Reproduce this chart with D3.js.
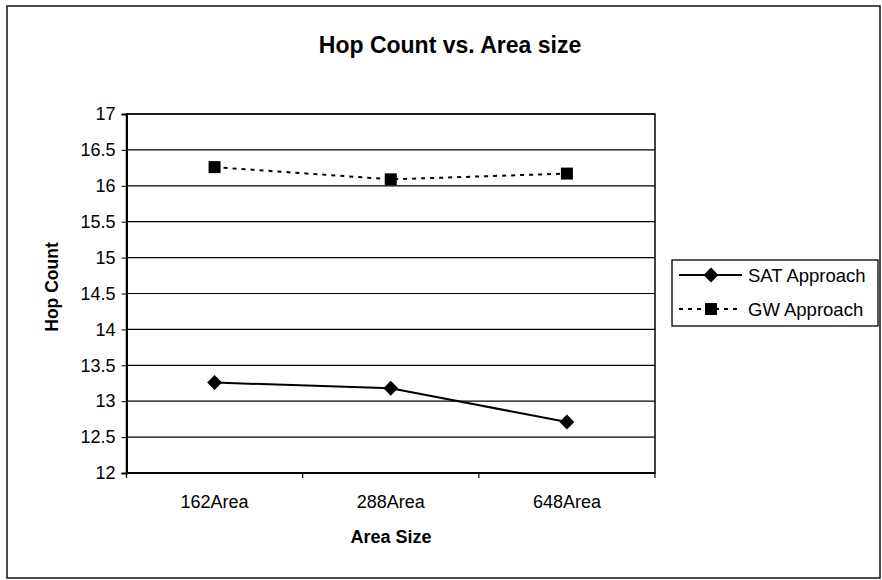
<!DOCTYPE html>
<html><head><meta charset="utf-8">
<script src="https://cdn.jsdelivr.net/npm/d3@7"></script>
<style>body{margin:0;background:#fff}svg{display:block;font-family:"Liberation Sans",Arial,sans-serif}</style>
</head><body>
<svg id="chart" width="882" height="580"></svg>
<script>
const categories = ["162Area", "288Area", "648Area"];
const satValues = [13.26, 13.18, 12.71];
const gwValues = [16.26, 16.09, 16.17];
const yTicks = [12, 12.5, 13, 13.5, 14, 14.5, 15, 15.5, 16, 16.5, 17];
const seriesNames = ["SAT Approach", "GW Approach"];

const svg = d3.select("#chart");
const L = 126.5, R = 655, T = 114, B = 473;

svg.append("rect").attr("x", 7).attr("y", 6).attr("width", 873).attr("height", 572)
  .attr("fill", "none").attr("stroke", "#111").attr("stroke-width", 1.5);

const x = d3.scaleBand().domain(categories).range([L, R]).padding(0);
const y = d3.scaleLinear().domain([12, 17]).range([B, T]);

// gridlines
svg.append("g").selectAll("line").data(yTicks).join("line")
  .attr("x1", L).attr("x2", R).attr("y1", d => y(d)).attr("y2", d => y(d))
  .attr("stroke", "#000").attr("stroke-width", 1.2);

// plot border
svg.append("rect").attr("x", L).attr("y", T).attr("width", R - L).attr("height", B - T)
  .attr("fill", "none").attr("stroke", "#000").attr("stroke-width", 1.5);

// y axis
const yAxis = d3.axisLeft(y).tickValues(yTicks).tickSize(5).tickPadding(6)
  .tickFormat(d => String(d));
const gy = svg.append("g").attr("transform", `translate(${L},0)`).call(yAxis);
gy.select(".domain").attr("stroke-width", 2);
gy.selectAll("text").attr("font-size", 18).attr("fill", "#000")
  .attr("font-family", "Liberation Sans, Arial, sans-serif");

// x axis
const boundaries = [0, 1, 2, 3].map(i => L + i * x.step());
const gx = svg.append("g").attr("transform", `translate(0,${B})`);
gx.append("line").attr("x1", L).attr("x2", R).attr("stroke", "#000").attr("stroke-width", 2.2);
gx.selectAll("line.tk").data(boundaries).join("line").attr("class", "tk")
  .attr("x1", d => d).attr("x2", d => d).attr("y1", 0).attr("y2", 5)
  .attr("stroke", "#000").attr("stroke-width", 1.2);
gx.selectAll("text").data(categories).join("text")
  .attr("x", d => x(d) + x.bandwidth() / 2).attr("y", 35)
  .attr("text-anchor", "middle").attr("font-size", 18).text(d => d);

const cx = d => x(d) + x.bandwidth() / 2;

// GW line
const gwData = categories.map((c, i) => [cx(c), y(gwValues[i])]);
svg.append("path").attr("d", d3.line()(gwData)).attr("fill", "none")
  .attr("stroke", "#000").attr("stroke-width", 2).attr("stroke-dasharray", "4,5");
svg.append("g").selectAll("rect").data(gwData).join("rect")
  .attr("x", d => d[0] - 6).attr("y", d => d[1] - 6).attr("width", 12).attr("height", 12)
  .attr("fill", "#000");

// SAT line
const satData = categories.map((c, i) => [cx(c), y(satValues[i])]);
svg.append("path").attr("d", d3.line()(satData)).attr("fill", "none")
  .attr("stroke", "#000").attr("stroke-width", 2);
const diamond = d3.symbol().type(d3.symbolDiamond2).size(140);
svg.append("g").selectAll("path").data(satData).join("path")
  .attr("transform", d => `translate(${d[0]},${d[1]})`).attr("d", diamond).attr("fill", "#000");

// titles
svg.append("text").attr("x", 450).attr("y", 53).attr("text-anchor", "middle")
  .attr("font-size", 23).attr("font-weight", "bold").text("Hop Count vs. Area size");
svg.append("text").attr("x", 391).attr("y", 543).attr("text-anchor", "middle")
  .attr("font-size", 18).attr("font-weight", "bold").text("Area Size");
svg.append("text").attr("transform", "translate(58,287) rotate(-90)").attr("text-anchor", "middle")
  .attr("font-size", 17.5).attr("font-weight", "bold").text("Hop Count");

// legend
const lg = svg.append("g");
lg.append("rect").attr("x", 672).attr("y", 260).attr("width", 206).attr("height", 66)
  .attr("fill", "#fff").attr("stroke", "#000").attr("stroke-width", 1.3);
const rows = [275, 309];
lg.append("line").attr("x1", 679).attr("x2", 742).attr("y1", rows[0]).attr("y2", rows[0])
  .attr("stroke", "#000").attr("stroke-width", 2);
lg.append("path").attr("transform", `translate(711,${rows[0]})`).attr("d", diamond).attr("fill", "#000");
lg.append("line").attr("x1", 679).attr("x2", 742).attr("y1", rows[1]).attr("y2", rows[1])
  .attr("stroke", "#000").attr("stroke-width", 2).attr("stroke-dasharray", "4,5");
lg.append("rect").attr("x", 705).attr("y", rows[1] - 6).attr("width", 12).attr("height", 12).attr("fill", "#000");
lg.selectAll("text").data(seriesNames).join("text")
  .attr("x", 748).attr("y", (d, i) => rows[i] + 6.5).attr("font-size", 18.5).text(d => d);
</script>
</body></html>
